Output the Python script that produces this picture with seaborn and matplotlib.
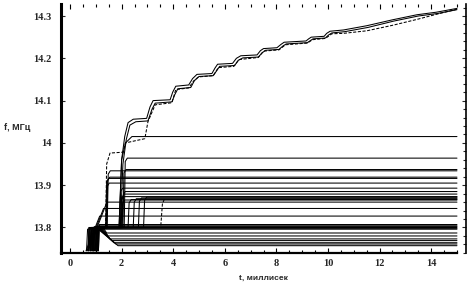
import numpy as np
import pandas as pd
import matplotlib
matplotlib.use("Agg")
import matplotlib.pyplot as plt
from matplotlib.ticker import FixedLocator, FixedFormatter
import seaborn as sns

# ---------------- data ----------------
F_START = 13.745          # frequency where every trace begins
F_BAND = 13.800           # common shelf before the later rises
T_END = 15.0

# low traces that overshoot to the shelf and fall back ("fan")
fan_levels = [13.757, 13.761, 13.764, 13.769, 13.773, 13.780, 13.787]
fan_start = [0.70, 0.74, 0.78, 0.82, 0.86, 0.90, 0.95]
fan_settle = [1.86, 1.78, 1.70, 1.62, 1.55, 1.48, 1.42]

# traces that stop on the thick 13.80 band
band_levels = [13.796, 13.798, 13.800, 13.802, 13.804, 13.807]
band_start = [0.64, 0.70, 0.80, 0.90, 1.00, 1.10]

# traces rising diagonally along the left edge
diag_levels = [13.827, 13.845, 13.860]
diag_start = [0.62, 0.66, 0.70]
diag_knee = [1.15, 1.30, 1.43]

# traces rising from the shelf at a given time
rise_levels = [13.905, 13.916, 13.919, 13.934,
               13.865, 13.873, 13.879, 13.885, 13.893, 13.937, 13.964,
               13.866, 13.868, 13.870, 13.872]
rise_start = [0.80, 0.84, 0.88, 0.92,
              0.96, 1.00, 0.72, 0.78, 1.04, 1.06, 1.08,
              0.98, 1.02, 1.06, 1.10]
rise_time = [1.40, 1.38, 1.42, 1.44,
             2.00, 1.95, 1.98, 2.02, 1.92, 2.05, 2.10,
             2.25, 2.45, 2.65, 2.85]

# trace ending at 14.015
top_flat_t = [0.90, 0.94, 1.90, 2.00, 2.15, 2.40, 15.00]
top_flat_f = [13.745, 13.800, 13.800, 13.960, 14.000, 14.015, 14.015]

# short dashed late rise
late_t = [3.52, 3.58, 3.66]
late_f = [13.805, 13.855, 13.868]

# upper staircase traces
A_t = [0.88, 0.92, 1.90, 2.00, 2.12, 2.25, 2.45, 2.97, 3.10, 3.22, 3.88, 3.98, 4.10,
       4.60, 4.75, 4.92, 5.50, 5.62, 5.72, 6.30, 6.45, 6.62, 7.25, 7.38, 7.50, 8.02,
       8.18, 8.30, 9.15, 9.25, 9.35, 9.85, 9.95, 10.08, 10.60, 11.50, 12.50, 13.45,
       14.20, 15.00]
A_f = [13.745, 13.800, 13.800, 13.960, 14.015, 14.048, 14.056, 14.058, 14.085, 14.100,
       14.102, 14.120, 14.134, 14.137, 14.152, 14.162, 14.164, 14.177, 14.186, 14.188,
       14.200, 14.206, 14.208, 14.218, 14.223, 14.225, 14.233, 14.238, 14.241, 14.246,
       14.250, 14.252, 14.259, 14.264, 14.267, 14.277, 14.291, 14.303, 14.309, 14.318]

B_t = [0.92, 0.96, 1.95, 2.05, 2.18, 2.32, 2.55, 3.02, 3.18, 3.30, 3.95, 4.06, 4.18,
       4.68, 4.82, 5.00, 5.55, 5.70, 5.80, 6.38, 6.52, 6.70, 7.30, 7.45, 7.58, 8.10,
       8.25, 8.38, 9.20, 9.32, 9.42, 9.90, 10.02, 10.15, 10.65, 11.55, 12.55, 13.50,
       14.25, 15.00]
B_f = [13.745, 13.800, 13.800, 13.950, 14.008, 14.042, 14.050, 14.052, 14.080, 14.094,
       14.097, 14.114, 14.128, 14.131, 14.147, 14.157, 14.159, 14.172, 14.181, 14.183,
       14.195, 14.201, 14.203, 14.213, 14.219, 14.221, 14.229, 14.234, 14.237, 14.242,
       14.246, 14.248, 14.255, 14.260, 14.263, 14.273, 14.288, 14.300, 14.306, 14.315]

C_t = [0.86, 0.90, 1.38, 1.42, 1.55, 2.05, 2.15, 2.90, 3.02, 3.30, 3.95, 4.10, 4.60,
       4.80, 4.98, 5.55, 5.75, 6.35, 6.55, 7.30, 7.50, 8.10, 8.35, 9.20, 9.40, 9.90,
       10.15, 10.60, 11.50, 12.50, 13.45, 14.20, 15.00]
C_f = [13.745, 13.800, 13.800, 13.950, 13.976, 13.978, 14.000, 14.010, 14.050, 14.090,
       14.095, 14.126, 14.130, 14.147, 14.156, 14.159, 14.178, 14.181, 14.197, 14.202,
       14.217, 14.220, 14.232, 14.236, 14.244, 14.247, 14.258, 14.259, 14.265, 14.278,
       14.292, 14.304, 14.316]

x_ticks = [0, 2, 4, 6, 8, 10, 12, 14]
x_labels = ["0", "2", "4", "6", "8", "10", "12", "14"]
y_ticks = [13.8, 13.9, 14.0, 14.1, 14.2, 14.3]
y_labels = ["13.8", "13.9", "14", "14.1", "14.2", "14.3"]

# ---------------- build traces ----------------
rows = []
lid = 0


def add(ts, fs, kind):
    global lid
    for i, (t, f) in enumerate(zip(ts, fs)):
        rows.append({"t": t, "f": f, "line": lid, "order": i, "kind": kind})
    lid += 1


for L, t0, ts in zip(fan_levels, fan_start, fan_settle):
    add([t0, t0 + 0.03, t0 + 0.35, ts, T_END], [F_START, F_BAND, F_BAND - 0.002, L, L], "solid")
for L, t0 in zip(band_levels, band_start):
    add([t0, t0 + 0.04, T_END], [F_START, L, L], "solid")
for L, t0, tk in zip(diag_levels, diag_start, diag_knee):
    add([t0, tk, T_END], [F_START, L, L], "solid")
for L, t0, tr in zip(rise_levels, rise_start, rise_time):
    add([t0, t0 + 0.03, tr, tr + 0.04, tr + 0.12, T_END],
        [F_START, F_BAND, F_BAND, L - 0.008, L, L], "solid")
add(top_flat_t, top_flat_f, "solid")
add(A_t, A_f, "solid")
add(B_t, B_f, "solid")
add(C_t, C_f, "dashed")
add(late_t, late_f, "dashed")

df = pd.DataFrame(rows)

# ---------------- plot ----------------
sns.set_style("white")
plt.rcParams["font.family"] = ["Liberation Serif", "DejaVu Sans"]

W, H = 467, 288
fig = plt.figure(figsize=(W / 100, H / 100), dpi=100)
ax = fig.add_axes([61 / W, 1 - 253 / H, (466 - 61) / W, (253 - 4) / H])

LW = 0.75
sns.lineplot(data=df[df.kind == "solid"], x="t", y="f", units="line", estimator=None,
             sort=False, color="black", linewidth=LW, legend=False, ax=ax)
sns.lineplot(data=df[df.kind == "dashed"], x="t", y="f", units="line", estimator=None,
             sort=False, color="black", linewidth=LW, legend=False, ax=ax,
             dashes=False, linestyle=(0, (3, 1.5)))

ax.set_xlim(-0.35, 15.35)
ax.set_ylim(13.7397, 14.3284)
ax.set_xlabel("")
ax.set_ylabel("")

ax.xaxis.set_major_locator(FixedLocator(x_ticks))
ax.xaxis.set_major_formatter(FixedFormatter(x_labels))
ax.xaxis.set_minor_locator(FixedLocator([v * 0.5 for v in range(0, 31) if v % 4 != 0]))
ax.yaxis.set_major_locator(FixedLocator(y_ticks))
ax.yaxis.set_major_formatter(FixedFormatter(y_labels))
ax.yaxis.set_minor_locator(FixedLocator([13.74 + 0.02 * k for k in range(30)]))

ax.tick_params(axis="x", which="both", direction="in", bottom=True, top=True,
               labelsize=7.5, pad=4, color="black", width=0.8)
ax.tick_params(axis="x", which="major", length=3.5)
ax.tick_params(axis="x", which="minor", length=2)
ax.tick_params(axis="y", which="major", direction="in", left=True, right=True,
               length=3, width=0.8, labelsize=7.5, pad=7)
ax.tick_params(axis="y", which="minor", direction="in", left=False, right=True,
               length=2, width=0.8)

for lab in ax.get_xticklabels() + ax.get_yticklabels():
    lab.set_fontweight("bold")

ax.spines["top"].set_visible(False)
ax.spines["left"].set_linewidth(2.2)
ax.spines["bottom"].set_linewidth(1.6)
ax.spines["bottom"].set_bounds(-0.35, 15.0)
ax.spines["right"].set_linewidth(1.2)
for s in ax.spines.values():
    s.set_color("black")

fig.text(4 / W, 1 - 127 / H, "f, МГц", ha="left", va="center", fontsize=6.5,
         fontweight="bold", family=["Liberation Sans", "DejaVu Sans"])
fig.text(263 / W, 1 - 278 / H, "t, миллисек", ha="center", va="center", fontsize=6,
         fontweight="bold", family=["Liberation Sans", "DejaVu Sans"])

fig.savefig("out.png", dpi=100, facecolor="white")
